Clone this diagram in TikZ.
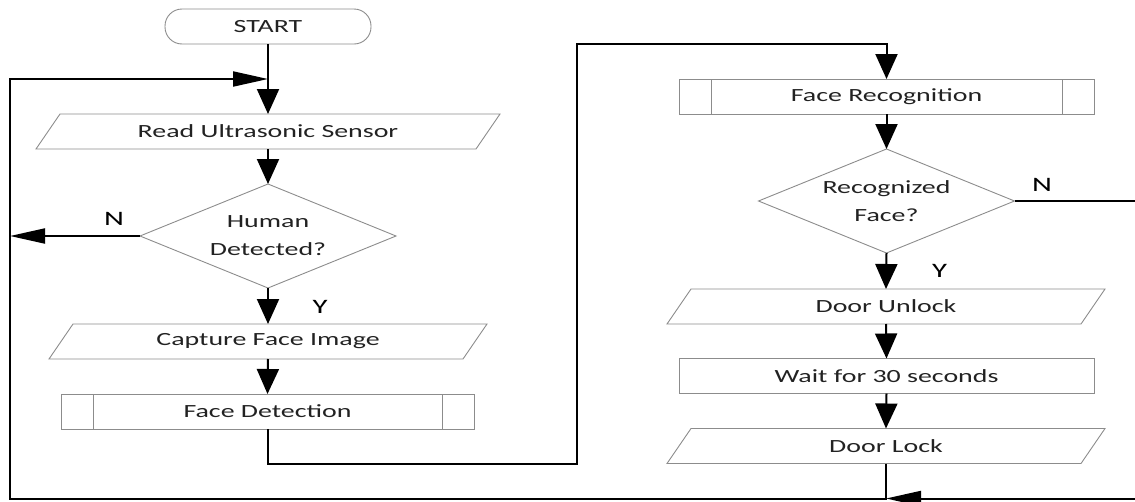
\documentclass[tikz,border=0pt]{standalone}
\usepackage{fontspec}
\setmainfont{Carlito}[FakeStretch=1.5]
\usetikzlibrary{shapes.geometric,arrows.meta}
\definecolor{boxline}{HTML}{8C8C8C}
\definecolor{boxtext}{HTML}{222222}

\begin{document}
\begin{tikzpicture}[x=1pt, y=-1pt, font=\fontsize{18.6}{28}\selectfont, line join=miter,
  every node/.style={text=boxtext, inner sep=0pt, outer sep=0pt},
  terminal/.style={draw=boxline, line width=0.9pt, rounded corners=17pt, minimum width=206pt, minimum height=35pt},
  io/.style={minimum width=#1, minimum height=35pt,
    append after command={\pgfextra{\draw[boxline, line width=0.9pt] ([xshift=24pt]\tikzlastnode.north west) -- (\tikzlastnode.north east) -- ([xshift=-24pt]\tikzlastnode.south east) -- (\tikzlastnode.south west) -- cycle;}}},
  process/.style={draw=boxline, line width=0.9pt, minimum width=#1, minimum height=35pt,
    path picture={\draw[boxline, line width=0.9pt] ([xshift=32pt]path picture bounding box.north west) -- ([xshift=32pt]path picture bounding box.south west) ([xshift=-32pt]path picture bounding box.north east) -- ([xshift=-32pt]path picture bounding box.south east);}},
  stepbox/.style={draw=boxline, line width=0.9pt, minimum width=415pt, minimum height=35pt},
  decision/.style={diamond, draw=boxline, line width=0.9pt, aspect=2.46, minimum width=256pt, minimum height=104pt, align=center},
  flag/.style={text=black, font=\fontsize{20.5}{24}\selectfont},
  link/.style={line width=2pt},
  vflow/.style={line width=2pt, -{Triangle[length=25pt, width=22pt]}},
  hflow/.style={line width=2pt, -{Triangle[length=35pt, width=15pt]}}]
  \useasboundingbox (0,0) rectangle (1135,501);
  \clip (0,0) rectangle (1135,501);

  % left column
  \node[terminal] (start) at (268,26.5) {START};
  \node[io=464pt] (read) at (268,131.5) {Read Ultrasonic Sensor};
  \node[decision] (human) at (268,236) {Human\\Detected?};
  \node[io=438pt] (capture) at (268,341.5) {Capture Face Image};
  \node[process=413pt] (detect) at (267.5,411.5) {Face Detection};

  % right column
  \node[process=415pt] (recog) at (886.5,96.5) {Face Recognition};
  \node[decision] (recd) at (886.5,201) {Recognized\\Face?};
  \node[io=438pt] (unlock) at (886,306.5) {Door Unlock};
  \node[stepbox] (wait) at (886.5,376) {Wait for 30 seconds};
  \node[io=438pt] (lock) at (886,446) {Door Lock};

  % labels
  \node[flag] (nhuman) at (114,219) {N};
  \node[flag] (yhuman) at (320,306.5) {Y};
  \node[flag] (nrecd) at (1042,185) {N};
  \node[flag] (yrecd) at (939.5,271) {Y};

  % corners of the loops
  \coordinate (loopin) at (268,79);
  \coordinate (leftbot) at (10,498.5);
  \coordinate (midlow) at (577,464);
  \coordinate (midtop) at (577,44);
  \coordinate (offright) at (1160,201);

  \draw[vflow] (start.south) -- (read.north);
  \draw[vflow] (read.south) -- (human.north);
  \draw[vflow] (human.south) -- (capture.north);
  \draw[vflow] (capture.south) -- (detect.north);
  \draw[vflow] (detect.south) |- (midlow) -- (midtop) -| (recog.north);
  \draw[vflow] (recog.south) -- (recd.north);
  \draw[vflow] (recd.south) -- (unlock.north);
  \draw[vflow] (unlock.south) -- (wait.north);
  \draw[vflow] (wait.south) -- (lock.north);
  \draw[hflow] (lock.south) |- (leftbot) |- (loopin);
  \draw[hflow] (human.west) -- (human.west -| leftbot);
  \draw[hflow] (recd.east) -- (offright) |- (lock.south |- leftbot);
\end{tikzpicture}
\end{document}
